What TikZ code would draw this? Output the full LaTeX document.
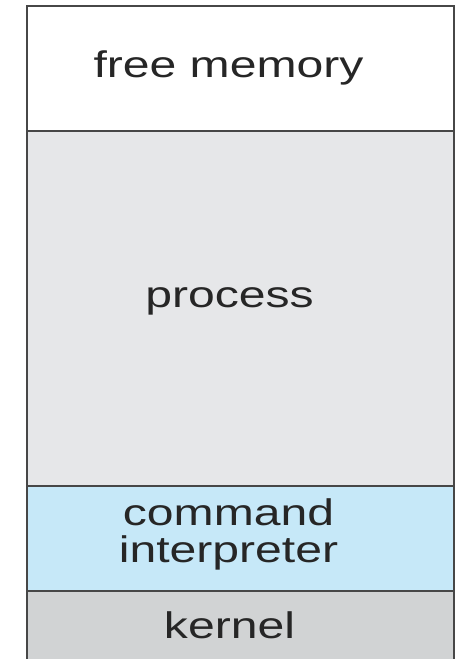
\documentclass[tikz,border=0pt]{standalone}
\usepackage{fontspec}
\setmainfont{Liberation Sans}
\usetikzlibrary{positioning}

\definecolor{procgray}{HTML}{E6E7E9}
\definecolor{cmdblue}{HTML}{C6E8F8}
\definecolor{kerngray}{HTML}{D1D3D4}

\begin{document}
\begin{tikzpicture}[
x=1pt, y=1pt,
memblock/.style={rectangle, inner sep=0pt, outer sep=0pt, minimum width=427pt},
memtext/.style={inner sep=0pt, xscale=1.3, text=black!85, font=\fontsize{37}{37}\selectfont, align=center},
border/.style={draw=black!72, line width=1.6pt}
]
\useasboundingbox (0,0) rectangle (462,-659);

\node[memblock, fill=white, minimum height=125pt, anchor=north west] (block_free) at (27,-6) {};
\node[memblock, fill=procgray, minimum height=355pt] (block_proc) [below=0pt of block_free] {};
\node[memblock, fill=cmdblue, minimum height=105pt] (block_cmd) [below=0pt of block_proc] {};
\node[memblock, fill=kerngray, minimum height=68pt] (block_kern) [below=0pt of block_cmd] {};

\node[memtext, anchor=base] (text_free) at ([xshift=-12pt, yshift=-9pt]block_free.center) {free memory};
\node[memtext, anchor=base] (text_proc) at ([xshift=-11pt, yshift=1.5pt]block_proc.center) {process};
\node[memtext] (text_cmd) at ([xshift=-12pt, yshift=4.5pt]block_cmd.center) {command\\interpreter};
\node[memtext, anchor=base] (text_kern) at ([xshift=-11pt, yshift=-13pt]block_kern.center) {kernel};

\draw[border] (block_kern.south west) -- (block_free.north west) -- (block_free.north east) -- (block_kern.south east);
\draw[border] (block_free.south west) -- (block_free.south east);
\draw[border] (block_proc.south west) -- (block_proc.south east);
\draw[border] (block_cmd.south west) -- (block_cmd.south east);

\end{tikzpicture}
\end{document}
